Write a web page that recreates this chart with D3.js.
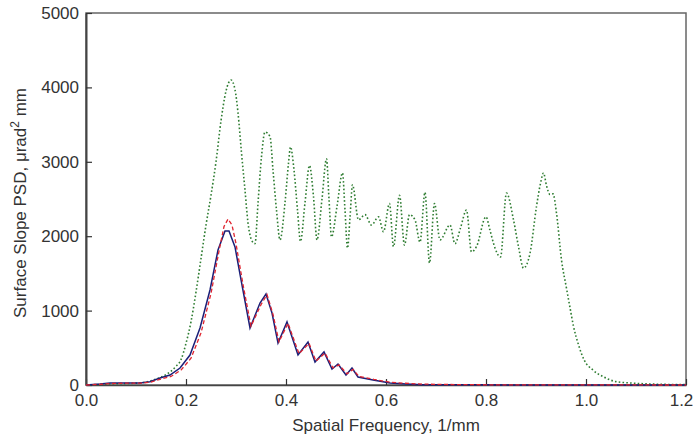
<!DOCTYPE html>
<html>
<head>
<meta charset="utf-8">
<script src="https://cdn.jsdelivr.net/npm/d3@7"></script>
<style>
  body { margin: 0; background: #fff; }
  svg { display: block; }
  text { font-family: "Liberation Sans", Arial, sans-serif; fill: #333; }
</style>
</head>
<body>
<svg id="chart" width="696" height="439"></svg>
<script>
// ---- data ----
const xTicks = [0.0, 0.2, 0.4, 0.6, 0.8, 1.0, 1.2];
const yTicks = [0, 1000, 2000, 3000, 4000, 5000];

// blue solid series: [frequency, PSD]
const blueSeries = [
  [0,0],[0.028,13],[0.048,27],[0.078,27],[0.108,27],[0.128,45],[0.148,94],[0.168,134],[0.188,228],
  [0.208,403],[0.228,766],[0.248,1277],[0.264,1814],[0.278,2070],[0.286,2070],
  [0.298,1855],[0.312,1344],[0.328,766],[0.348,1102],[0.36,1223],[0.372,968],
  [0.384,564],[0.402,847],[0.424,403],[0.444,578],[0.458,309],[0.476,444],
  [0.492,215],[0.504,282],[0.52,134],[0.532,228],[0.544,108],[0.574,67],
  [0.608,27],[0.64,15],[0.674,5],[0.72,3],[0.8,2],[0.9,1],[1.0,1],[1.2,0]
];

// red dashed series
const redSeries = [
  [0,0],[0.03,10],[0.05,20],[0.08,25],[0.11,25],[0.13,40],[0.15,80],[0.17,115],[0.19,200],
  [0.21,360],[0.23,700],[0.25,1230],[0.266,1800],[0.276,2130],[0.284,2230],
  [0.292,2150],[0.30,1900],[0.314,1350],[0.33,790],[0.35,1080],[0.362,1215],
  [0.374,950],[0.386,580],[0.404,830],[0.426,420],[0.446,560],[0.46,320],
  [0.478,430],[0.494,230],[0.506,270],[0.522,150],[0.534,210],[0.546,115],
  [0.576,75],[0.61,35],[0.66,15],[0.7,8],[0.8,3],[0.9,2],[1.0,1],[1.2,0]
];

// green dotted series
const greenSeries = [
  [0,0],[0.02,5],[0.05,15],[0.08,20],[0.11,30],[0.14,80],[0.16,140],[0.18,250],
  [0.19,340],[0.20,560],[0.21,850],[0.22,1250],[0.23,1700],[0.24,2150],[0.25,2550],
  [0.26,3000],[0.27,3550],[0.28,3950],[0.29,4100],[0.298,3970],[0.304,3660],
  [0.311,3120],[0.318,2620],[0.324,2180],[0.331,1950],[0.338,1900],[0.344,2440],
  [0.351,3070],[0.358,3400],[0.368,3340],[0.374,2890],[0.381,2350],[0.388,1950],
  [0.398,2450],[0.405,2980],[0.409,3200],[0.416,2890],[0.423,2350],[0.429,1930],
  [0.438,2450],[0.447,2950],[0.455,2530],[0.462,1950],[0.472,2500],[0.481,3040],
  [0.486,2500],[0.491,1990],[0.502,2400],[0.513,2850],[0.518,2350],[0.523,1840],
  [0.528,2250],[0.533,2690],[0.545,2220],[0.558,2290],[0.571,2150],[0.585,2260],
  [0.595,2060],[0.607,2440],[0.615,1860],[0.627,2550],[0.637,1880],[0.647,2290],
  [0.658,2220],[0.668,1920],[0.678,2590],[0.687,1640],[0.697,2440],[0.708,1950],
  [0.728,2150],[0.738,1900],[0.749,2110],[0.761,2350],[0.771,1790],[0.781,1860],
  [0.80,2260],[0.808,2080],[0.818,1840],[0.829,1720],[0.841,2580],[0.855,2220],
  [0.865,1860],[0.875,1570],[0.888,1770],[0.901,2400],[0.909,2710],[0.915,2850],
  [0.921,2680],[0.928,2560],[0.934,2570],[0.941,2310],[0.951,1680],[0.961,1300],
  [0.968,1040],[0.975,790],[0.985,540],[0.996,340],[1.014,200],[1.035,110],
  [1.06,45],[1.09,27],[1.12,15],[1.16,8],[1.2,5]
];

// ---- layout ----
const margin = {left: 86, top: 13, right: 10, bottom: 54};
const W = 696, H = 439;
const svg = d3.select("#chart");

const x = d3.scaleLinear().domain([0, 1.2]).range([margin.left, W - margin.right]);
const y = d3.scaleLinear().domain([0, 5000]).range([H - margin.bottom, margin.top]);

const smoothLine = d3.line().curve(d3.curveMonotoneX).x(d => x(d[0])).y(d => y(d[1]));
const sharpLine = d3.line().x(d => x(d[0])).y(d => y(d[1]));

// box
svg.append("rect")
  .attr("x", x(0)).attr("y", y(5000))
  .attr("width", x(1.2) - x(0)).attr("height", y(0) - y(5000))
  .attr("fill", "none").attr("stroke", "#666").attr("stroke-width", 1.5);

// axes
const xAxis = d3.axisBottom(x).tickValues(xTicks).tickFormat(d3.format(".1f"))
  .tickSizeInner(-6).tickSizeOuter(0).tickPadding(9);
const gx = svg.append("g").attr("transform", `translate(0,${y(0)})`).call(xAxis);
gx.select(".domain").attr("stroke", "#444").attr("stroke-width", 1.5);
gx.selectAll(".tick line").attr("stroke", "#333").attr("stroke-width", 1.2);
gx.selectAll("text").attr("font-size", 17).style("fill", "#333");
gx.selectAll(".tick").filter(d => d === 1.2).select("text").attr("dx", -5);

const yAxis = d3.axisLeft(y).tickValues(yTicks).tickFormat(d3.format("d"))
  .tickSizeInner(-6).tickSizeOuter(0).tickPadding(7);
const gy = svg.append("g").attr("transform", `translate(${x(0)},0)`).call(yAxis);
gy.select(".domain").attr("stroke", "#444").attr("stroke-width", 2);
gy.selectAll(".tick line").attr("stroke", "#333").attr("stroke-width", 1.2);
gy.selectAll("text").attr("font-size", 17).style("fill", "#333");

// series
svg.append("path").datum(greenSeries).attr("d", smoothLine)
  .attr("fill", "none").attr("stroke", "#2f7d32").attr("stroke-width", 1.6)
  .attr("stroke-dasharray", "1.6,2.2");

svg.append("path").datum(blueSeries).attr("d", sharpLine)
  .attr("fill", "none").attr("stroke", "#1b1f78").attr("stroke-width", 1.5);

svg.append("path").datum(redSeries).attr("d", sharpLine)
  .attr("fill", "none").attr("stroke", "#e0242f").attr("stroke-width", 1.3)
  .attr("stroke-dasharray", "4,2.5");

// axis titles
svg.append("text")
  .attr("x", (x(0) + x(1.2)) / 2).attr("y", 431)
  .attr("text-anchor", "middle").attr("font-size", 17)
  .text("Spatial Frequency, 1/mm");

const yt = svg.append("text")
  .attr("transform", `translate(26,${(y(0) + y(5000)) / 2 + 4}) rotate(-90)`)
  .attr("text-anchor", "middle").attr("font-size", 17);
yt.append("tspan").text("Surface Slope PSD, \u03bcrad");
yt.append("tspan").attr("baseline-shift", "super").attr("font-size", 12).text("2");
yt.append("tspan").text(" mm");
</script>
</body>
</html>
